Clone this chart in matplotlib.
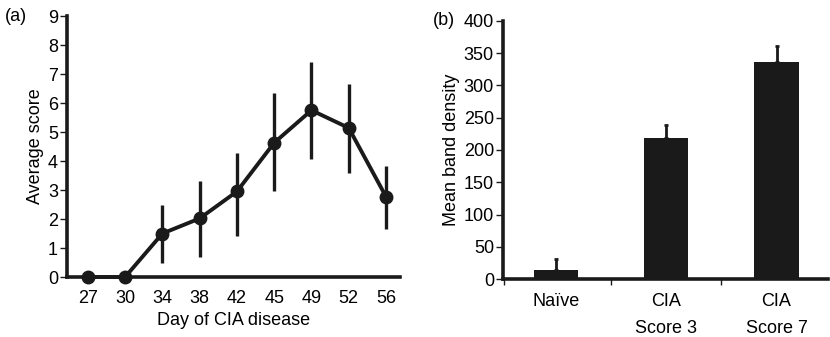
import matplotlib
matplotlib.use("Agg")
import matplotlib.pyplot as plt
import numpy as np

plt.rcParams["font.family"] = ["Liberation Sans", "DejaVu Sans"]
plt.rcParams["font.size"] = 13

INK = "#1a1a1a"

# (a) disease score time course
days = ["27", "30", "34", "38", "42", "45", "49", "52", "56"]
avg_score = [0, 0, 1.5, 2.02, 2.95, 4.63, 5.75, 5.14, 2.77]
err_low = [0, 0, 0.5, 0.69, 1.4, 2.95, 4.07, 3.57, 1.64]
err_high = [0, 0, 2.5, 3.3, 4.27, 6.36, 7.4, 6.65, 3.84]

# (b) band density
groups = ["Naïve", "CIA\nScore 3", "CIA\nScore 7"]
band_density = [14, 218, 337]
band_err = [17, 20, 24]

fig = plt.figure(figsize=(8.3, 3.37), dpi=100)

# ---------------------------------------------------------------- panel a
ax = fig.add_axes([0.0807, 0.178, 0.401, 0.7745])
x = np.arange(len(days))
y = np.array(avg_score)
yerr = [y - np.array(err_low), np.array(err_high) - y]
ax.errorbar(x, y, yerr=yerr, fmt="-o", color=INK, lw=2.8, elinewidth=2.4,
            capsize=0, ms=9, clip_on=False, zorder=3)
ax.set_xlim(-0.56, 8.37)
ax.set_ylim(0, 9)
ax.set_yticks(range(10))
ax.set_xticks(x)
ax.set_xticklabels(days)
ax.tick_params(axis="x", length=0, pad=9)
ax.tick_params(axis="y", length=5, width=1.0, pad=1.5, color=INK)
ax.set_xlabel("Day of CIA disease", labelpad=4)
ax.set_ylabel("Average score", labelpad=3)
for s in ("top", "right"):
    ax.spines[s].set_visible(False)
for s in ("left", "bottom"):
    ax.spines[s].set_linewidth(2.6)
    ax.spines[s].set_color(INK)
fig.text(0.006, 0.952, "(a)", ha="left", va="center")

# ---------------------------------------------------------------- panel b
bx = fig.add_axes([0.606, 0.172, 0.392, 0.766])
xb = np.arange(len(groups))
bx.bar(xb, band_density, width=0.4, color=INK, zorder=2)
bx.errorbar(xb, band_density, yerr=[np.zeros(3), band_err], fmt="none",
            ecolor=INK, elinewidth=2.0, capsize=1.5, capthick=2.0, zorder=2)
bx.set_xlim(-0.48, 2.47)
bx.set_ylim(0, 400)
bx.set_yticks(range(0, 401, 50))
bx.set_xticks(xb)
bx.set_xticklabels(groups, linespacing=1.75)
bx.set_xticks([-0.47, 0.5, 1.5], minor=True)
bx.tick_params(axis="x", which="major", length=0, pad=10)
bx.tick_params(axis="x", which="minor", length=4, width=1.0, color=INK)
bx.tick_params(axis="y", length=5, width=1.0, pad=1.5, color=INK)
bx.set_ylabel("Mean band density", labelpad=3)
for s in ("top", "right"):
    bx.spines[s].set_visible(False)
for s in ("left", "bottom"):
    bx.spines[s].set_linewidth(2.6)
    bx.spines[s].set_color(INK)
fig.text(0.522, 0.94, "(b)", ha="left", va="center")

fig.savefig("out.png", dpi=100)
